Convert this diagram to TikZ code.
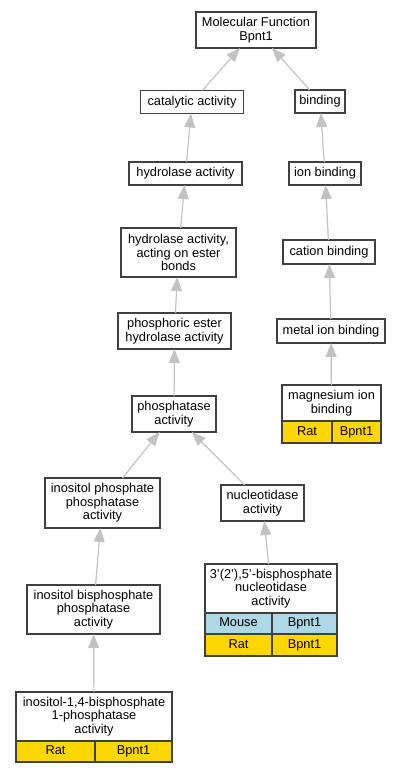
\documentclass[tikz,border=0pt]{standalone}
\usepackage{fontspec}
\setmainfont{Liberation Sans}
\usetikzlibrary{arrows.meta}

\definecolor{ratgold}{HTML}{FFD700}
\definecolor{mouseblue}{HTML}{ADD8E6}
\tikzset{
  term/.style={draw=black!75, line width=1.2pt, fill=white, align=center,
    inner sep=0pt, outer sep=0pt, minimum height=23pt,
    font=\fontsize{12.8}{13.6}\selectfont},
  cell/.style={term, minimum height=22pt, anchor=north west,
    text height=9.3pt, text depth=2.7pt},
  rat/.style={cell, fill=ratgold},
  mouse/.style={cell, fill=mouseblue},
  edge/.style={draw=black!24, line width=1.2pt,
    -{Triangle[width=11pt,length=14pt,fill=black!24]}},
}

\begin{document}
\begin{tikzpicture}[x=1pt,y=-1pt]
  \useasboundingbox (0,0) rectangle (400,773);

  % Define nodes
  \node[term, minimum width=120pt, minimum height=36pt] (mf)     at (256,30)    {Molecular Function\\Bpnt1};
  \node[term, minimum width=103pt]                      (cat)    at (192,102)   {catalytic activity};
  \node[term, minimum width=50pt]                       (bind)   at (320,101.5) {binding};
  \node[term, minimum width=113pt]                      (hyd)    at (185.5,173.5) {hydrolase activity};
  \node[term, minimum width=115pt, minimum height=49pt] (hydest) at (178.5,252.5) {hydrolase activity,\\acting on ester\\bonds};
  \node[term, minimum width=113pt, minimum height=36pt] (phosest) at (174.5,331) {phosphoric ester\\hydrolase activity};
  \node[term, minimum width=84pt, minimum height=36pt]  (phtase) at (174,414)   {phosphatase\\activity};
  \node[term, minimum width=72pt]                       (ion)    at (325,173.5) {ion binding};
  \node[term, minimum width=92pt, minimum height=24pt]  (cation) at (329,252)   {cation binding};
  \node[term, minimum width=108pt, minimum height=24pt] (metal)  at (331,331)   {metal ion binding};
  \node[term, minimum width=99pt, minimum height=36pt]  (mg)     at (331.5,403) {magnesium ion\\binding};
  \node[term, minimum width=115pt, minimum height=50pt] (ipp)    at (102.5,503) {inositol phosphate\\phosphatase\\activity};
  \node[term, minimum width=83pt, minimum height=36pt]  (nuc)    at (262.5,503) {nucleotidase\\activity};
  \node[term, minimum width=133pt, minimum height=49pt] (ibp)    at (93.5,609.5) {inositol bisphosphate\\phosphatase\\activity};
  \node[term, minimum width=132pt, minimum height=49pt] (bpn)    at (271,588.5) {3'(2'),5'-bisphosphate\\nucleotidase\\activity};
  \node[term, minimum width=156pt, minimum height=49pt] (ip14)   at (94,716.5)  {inositol-1,4-bisphosphate\\1-phosphatase\\activity};

  % Species rows
  \node[rat, minimum width=50pt]   (mg-sp)    at (mg.south west)       {Rat};
  \node[rat, minimum width=49pt]   (mg-gn)    at (mg-sp.north east)    {Bpnt1};
  \node[mouse, minimum width=67pt, minimum height=21pt] (bpn-sp1) at (bpn.south west) {Mouse};
  \node[mouse, minimum width=65pt, minimum height=21pt] (bpn-gn1) at (bpn-sp1.north east) {Bpnt1};
  \node[rat, minimum width=67pt]   (bpn-sp2)  at (bpn-sp1.south west)  {Rat};
  \node[rat, minimum width=65pt]   (bpn-gn2)  at (bpn-sp2.north east)  {Bpnt1};
  \node[rat, minimum width=79pt, minimum height=21pt] (ip14-sp) at (ip14.south west) {Rat};
  \node[rat, minimum width=77pt, minimum height=21pt] (ip14-gn) at (ip14-sp.north east) {Bpnt1};

  % Connect the nodes
  \foreach \from/\to in {cat/mf, bind/mf, hyd/cat, hydest/hyd, phosest/hydest,
      phtase/phosest, ipp/phtase, nuc/phtase, ibp/ipp, ip14/ibp, bpn/nuc,
      ion/bind, cation/ion, metal/cation, mg/metal}
    \draw[edge] (\from) -- (\to);

\end{tikzpicture}
\end{document}
